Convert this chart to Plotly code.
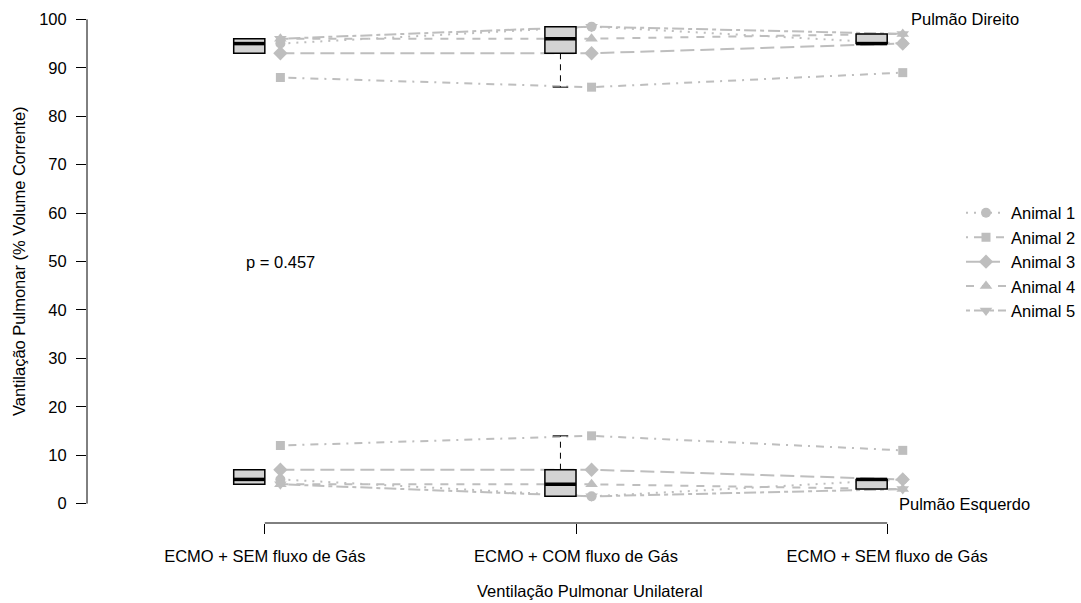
import numpy as np
import plotly.graph_objects as go

# Experimental conditions (x positions 1..3) and their labels
posicoes = [1, 2, 3]
condicoes = ["ECMO + SEM fluxo de Gás", "ECMO + COM fluxo de Gás", "ECMO + SEM fluxo de Gás"]
animais = ["Animal 1", "Animal 2", "Animal 3", "Animal 4", "Animal 5"]

# Ventilation share (% of tidal volume) per animal, one row per animal, one column per condition
pulmao_direito = [
    [95, 98.5, 95],
    [88, 86, 89],
    [93, 93, 95],
    [96, 96, 97],
    [96, 98.5, 97],
]
pulmao_esquerdo = [
    [5, 1.5, 5],
    [12, 14, 11],
    [7, 7, 5],
    [4, 4, 3],
    [4, 1.5, 3],
]
p_valor = 0.457

# Styling
FONTE = "Liberation Sans, Arial, sans-serif"
TAM = 16.5
CINZA = "#BEBEBE"
simbolos = ["circle", "square", "diamond", "triangle-up", "triangle-down"]
tamanhos = [10, 9, 11, 11, 11]
tracos = ["2px,6px", "2px,6px,8px,6px", "14px,6px", "8px,8px", "4px,4px,12px,4px"]
DESL_PONTOS = 0.05   # points sit to the right of each condition
DESL_CAIXA = -0.05   # boxes sit to the left of each condition
MEIA_LARG = 0.05


def estat_boxplot(valores, coef=1.5):
    """Tukey hinges and whisker ends, as in R's boxplot.stats."""
    x = np.sort(np.asarray(valores, dtype=float))
    n = len(x)
    n4 = np.floor((n + 3) / 2) / 2
    d = np.array([1, n4, (n + 1) / 2, n + 1 - n4, n]) - 1
    cinco = 0.5 * (x[np.floor(d).astype(int)] + x[np.ceil(d).astype(int)])
    iqr = cinco[3] - cinco[1]
    inf = x[x >= cinco[1] - coef * iqr].min()
    sup = x[x <= cinco[3] + coef * iqr].max()
    return inf, cinco[1], cinco[2], cinco[3], sup


fig = go.Figure()

# One trace per animal: right lung then left lung, separated by a gap
xs_pontos = [p + DESL_PONTOS for p in posicoes]
for i, nome in enumerate(animais):
    fig.add_trace(go.Scatter(
        x=xs_pontos + [None] + xs_pontos,
        y=pulmao_direito[i] + [None] + pulmao_esquerdo[i],
        mode="lines+markers",
        name=nome,
        line=dict(color=CINZA, width=2, dash=tracos[i]),
        marker=dict(symbol=simbolos[i], size=tamanhos[i], color=CINZA),
        cliponaxis=False,
    ))

# Box plots drawn over the lines
shapes = []
for j, p in enumerate(posicoes):
    c = p + DESL_CAIXA
    for grupo in (pulmao_direito, pulmao_esquerdo):
        coluna = [linha[j] for linha in grupo]
        inf, q1, med, q3, sup = estat_boxplot(coluna)
        for a, b in ((q3, sup), (q1, inf)):
            if b != a:
                shapes.append(dict(type="line", xref="x", yref="y", x0=c, x1=c, y0=a, y1=b,
                                   line=dict(color="black", width=1, dash="6px,5px"), layer="above"))
                shapes.append(dict(type="line", xref="x", yref="y", x0=c - MEIA_LARG / 2,
                                   x1=c + MEIA_LARG / 2, y0=b, y1=b,
                                   line=dict(color="black", width=1), layer="above"))
        shapes.append(dict(type="rect", xref="x", yref="y", x0=c - MEIA_LARG, x1=c + MEIA_LARG,
                           y0=q1, y1=q3, fillcolor="#D3D3D3",
                           line=dict(color="black", width=1.5), layer="above"))
        shapes.append(dict(type="line", xref="x", yref="y", x0=c - MEIA_LARG, x1=c + MEIA_LARG,
                           y0=med, y1=med, line=dict(color="black", width=3.5), layer="above"))

# Axis lines spanning only the tick range
shapes.append(dict(type="line", xref="paper", yref="y", x0=0, x1=0, y0=0, y1=100,
                   line=dict(color="black", width=1)))
shapes.append(dict(type="line", xref="x", yref="paper", x0=posicoes[0], x1=posicoes[-1], y0=0, y1=0,
                   line=dict(color="black", width=1)))

# Pixel geometry of the plotting region
L, R, T, B = 87, 0, 0, 80
W, H = 1081, 603
larg = W - L - R
alt = H - T - B
px_por_unid = 311.5
x0 = 1 - (265 - L) / px_por_unid
x1 = x0 + larg / px_por_unid

anot = [
    dict(x=1 + DESL_PONTOS, y=50, xref="x", yref="y", text=f"p = {p_valor}", showarrow=False,
         xanchor="center", yanchor="middle"),
    dict(x=3.25, y=100, xref="x", yref="y", text="Pulmão Direito", showarrow=False,
         xanchor="center", yanchor="middle"),
    dict(x=3.25, y=0, xref="x", yref="y", text="Pulmão Esquerdo", showarrow=False,
         xanchor="center", yanchor="middle"),
    dict(x=(18.5 - L) / larg, y=0.5, xref="paper", yref="paper",
         text="Vantilação Pulmonar (% Volume Corrente)", showarrow=False, textangle=-90,
         xanchor="center", yanchor="middle"),
    dict(x=(590.5 - L) / larg, y=-(591 - alt) / alt, xref="paper", yref="paper",
         text="Ventilação Pulmonar Unilateral", showarrow=False,
         xanchor="center", yanchor="middle"),
]

fig.update_layout(
    width=W, height=H,
    margin=dict(l=L, r=R, t=T, b=B),
    plot_bgcolor="white", paper_bgcolor="white",
    font=dict(family=FONTE, size=TAM, color="black"),
    shapes=shapes,
    annotations=anot,
    showlegend=True,
    legend=dict(x=(962 - L) / larg, y=1 - 262 / alt, xanchor="left", yanchor="middle",
                itemwidth=40, bgcolor="rgba(0,0,0,0)",
                font=dict(family=FONTE, size=TAM, color="black")),
    xaxis=dict(range=[x0, x1], tickvals=posicoes, ticktext=condicoes, ticks="outside",
               ticklen=10, tickcolor="black", showline=False, showgrid=False, zeroline=False,
               ticklabelstandoff=8),
    yaxis=dict(range=[-4, 104], tickvals=list(range(0, 101, 10)), ticks="outside",
               ticklen=10, tickcolor="black", showline=False, showgrid=False, zeroline=False,
               ticklabelstandoff=6),
)

fig.write_html("out.html")
